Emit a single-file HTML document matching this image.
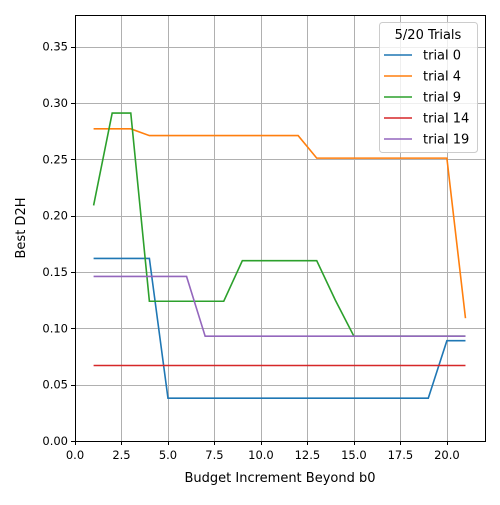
<!DOCTYPE html>
<html><head><meta charset="utf-8"><style>
body{margin:0;background:#fff;font-family:"Liberation Sans","DejaVu Sans",sans-serif;}
svg text{font-family:"DejaVu Sans","Liberation Sans",sans-serif;}
</style></head><body>
<svg id="chart" width="500" height="500" xmlns="http://www.w3.org/2000/svg"></svg>
<script>
const xs = [1,2,3,4,5,6,7,8,9,10,11,12,13,14,15,16,17,18,19,20,21];
const trial0 = [0.162,0.162,0.162,0.162,0.038,0.038,0.038,0.038,0.038,0.038,0.038,0.038,0.038,0.038,0.038,0.038,0.038,0.038,0.038,0.089,0.089];
const trial4 = [0.277,0.277,0.277,0.271,0.271,0.271,0.271,0.271,0.271,0.271,0.271,0.271,0.251,0.251,0.251,0.251,0.251,0.251,0.251,0.251,0.109];
const trial9 = [0.209,0.291,0.291,0.124,0.124,0.124,0.124,0.124,0.160,0.160,0.160,0.160,0.160,0.125,0.093,0.093,0.093,0.093,0.093,0.093,0.093];
const trial14 = [0.067,0.067,0.067,0.067,0.067,0.067,0.067,0.067,0.067,0.067,0.067,0.067,0.067,0.067,0.067,0.067,0.067,0.067,0.067,0.067,0.067];
const trial19 = [0.146,0.146,0.146,0.146,0.146,0.146,0.093,0.093,0.093,0.093,0.093,0.093,0.093,0.093,0.093,0.093,0.093,0.093,0.093,0.093,0.093];
const seriesNames = ["trial 0","trial 4","trial 9","trial 14","trial 19"];
const xTicks = [0,2.5,5,7.5,10,12.5,15,17.5,20];
const xTickLabels = ["0.0","2.5","5.0","7.5","10.0","12.5","15.0","17.5","20.0"];
const yTicks = [0,0.05,0.1,0.15,0.2,0.25,0.3,0.35];
const yTickLabels = ["0.00","0.05","0.10","0.15","0.20","0.25","0.30","0.35"];

const colors = ["#1f77b4","#ff7f0e","#2ca02c","#d62728","#9467bd"];
const L=75,R=485,T=15,B=441, xMin=0,xMax=22.05,yMin=0,yMax=0.378;
const sx=v=>L+(v-xMin)/(xMax-xMin)*(R-L);
const sy=v=>B-(v-yMin)/(yMax-yMin)*(B-T);
const svg=document.getElementById('chart');
const NS="http://www.w3.org/2000/svg";
function mk(tag,attrs,parent){const e=document.createElementNS(NS,tag);for(const k in attrs)e.setAttribute(k,attrs[k]);(parent||svg).appendChild(e);return e;}
const r=v=>Math.round(v)+0.5;

xTicks.forEach((t,i)=>{
  const g=mk('line',{x1:r(sx(t)),x2:r(sx(t)),y1:T,y2:B,stroke:'#b0b0b0','stroke-width':1});
  
  
  mk('line',{x1:r(sx(t)),x2:r(sx(t)),y1:B,y2:B+4,stroke:'#000'});
  const tx=mk('text',{x:sx(t),y:B+18,'text-anchor':'middle','font-size':11.5});
  tx.textContent=xTickLabels[i];
  
  
});
yTicks.forEach((t,i)=>{
  const g=mk('line',{x1:L,x2:R,y1:r(sy(t)),y2:r(sy(t)),stroke:'#b0b0b0','stroke-width':1});
  
  
  mk('line',{x1:L-4,x2:L,y1:r(sy(t)),y2:r(sy(t)),stroke:'#000'});
  const tx=mk('text',{x:L-7,y:sy(t)+4,'text-anchor':'end','font-size':11.5});
  tx.textContent=yTickLabels[i];
  
  
});

const allSeries=[trial0,trial4,trial9,trial14,trial19];
allSeries.forEach((s,i)=>{
  const p=mk('polyline',{points:s.map((v,j)=>sx(xs[j])+','+sy(v)).join(' '),fill:'none',stroke:colors[i],'stroke-width':1.6});
  
  
});

const fr=mk('rect',{x:L+0.5,y:T+0.5,width:R-L,height:B-T,fill:'none',stroke:'#000','stroke-width':1});



const xl=mk('text',{x:(L+R)/2,y:482,'text-anchor':'middle','font-size':13});
xl.textContent='Budget Increment Beyond b0';


const yl=mk('text',{x:25,y:(T+B)/2,'text-anchor':'middle','font-size':13,transform:'rotate(-90 25 '+((T+B)/2)+')'});
yl.textContent='Best D2H';



const lg=mk('g',{});


mk('rect',{x:379.5,y:22.5,width:98,height:130,rx:3,fill:'#fff','fill-opacity':0.8,stroke:'#ccc'},lg);
const lt=mk('text',{x:428,y:39,'text-anchor':'middle','font-size':13},lg);
lt.textContent='5/20 Trials';


seriesNames.forEach((n,i)=>{
  const y=55+i*21;
  const ln=mk('line',{x1:384,x2:412,y1:y,y2:y,stroke:colors[i],'stroke-width':1.6},lg);
  
  
  const t=mk('text',{x:423,y:y+4.5,'font-size':13},lg);
  t.textContent=n;
  
  
});
</script>
</body></html>
